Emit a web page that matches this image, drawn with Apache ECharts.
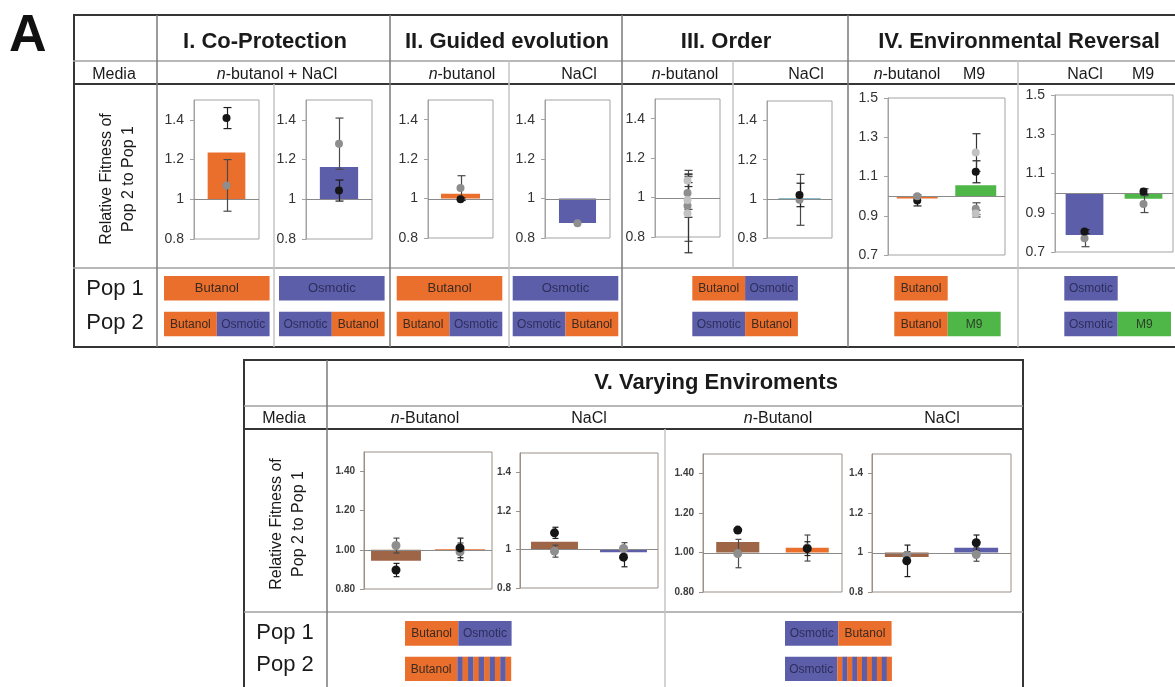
<!DOCTYPE html>
<html><head><meta charset="utf-8">
<script src="https://cdn.jsdelivr.net/npm/echarts@6/dist/echarts.min.js"></script>
<style>html,body{margin:0;padding:0;background:#fff}#c{width:1175px;height:687px}</style>
</head><body><div id="c"></div>
<script>
// ================= DATA =================
// Relative fitness of Pop 2 to Pop 1 (bars = mean; replicates = [categoryIndex, mean, error])
const BASELINE = [[0, 1]];
// I. Co-Protection
const coProtBut_bars = [1.236];
const coProtBut_black = [[0, 1.409, 0.053]];
const coProtBut_gray = [[0, 1.070, 0.130]];
const coProtOsm_bars = [1.162];
const coProtOsm_black = [[0, 1.044, 0.053]];
const coProtOsm_gray = [[0, 1.280, 0.129]];
// II. Guided evolution
const guidedBut_bars = [1.025];
const guidedBut_black = [[0, 0.997, 0.006]];
const guidedBut_gray = [[0, 1.053, 0.063]];
const guidedNaCl_bars = [0.876];
const guidedNaCl_gray = [[0, 0.875, 0]];
// III. Order
const orderBut_bars = [];
const orderBut_gray = [[0, 1.023, 0.083], [0, 0.958, 0.180]];
const orderBut_light = [[0, 1.086, 0.030], [0, 0.988, 0.088], [0, 0.920, 0.200]];
const orderNaCl_bars = [1.005];
const orderNaCl_black = [[0, 1.020, 0.060]];
const orderNaCl_gray = [[0, 0.995, 0.130]];
// IV. Environmental Reversal
const revBut_bars = [0.988, 1.055];
const revBut_black = [[0, 0.978, 0.028], [1, 1.124, 0.056]];
const revBut_gray = [[0, 1.000, 0], [1, 0.936, 0.030]];
const revBut_light = [[1, 1.222, 0.096], [1, 0.911, 0.017]];
const revNaCl_bars = [0.787, 0.971];
const revNaCl_black = [[0, 0.804, 0.010], [1, 1.008, 0.014]];
const revNaCl_gray = [[0, 0.770, 0.043], [1, 0.944, 0.043]];
// V. Varying Environments
const varBut1_bars = [0.944, 1.003];
const varBut1_black = [[0, 0.897, 0.034], [1, 1.010, 0.050]];
const varBut1_gray = [[0, 1.022, 0.038], [1, 0.990, 0.045]];
const varNaCl1_bars = [1.040, 0.986];
const varNaCl1_black = [[0, 1.086, 0.029], [1, 0.960, 0.050]];
const varNaCl1_gray = [[0, 0.991, 0.031], [1, 1.005, 0.030]];
const varBut2_bars = [1.054, 1.024];
const varBut2_black = [[0, 1.114, 0], [1, 1.020, 0.035]];
const varBut2_gray = [[0, 0.995, 0.072], [1, 1.023, 0.066]];
const varNaCl2_bars = [0.978, 1.024];
const varNaCl2_black = [[0, 0.958, 0.080], [1, 1.050, 0.039]];
const varNaCl2_gray = [[0, 0.985, 0.020], [1, 0.990, 0.034]];
// Categories and tick labels
const cats1 = ['Pop 2 vs Pop 1'];
const cats2 = ['A', 'B'];
const ticksTop = [0.8, 1.0, 1.2, 1.4];
const ticksRev = [0.7, 0.9, 1.1, 1.3, 1.5];
const ticksVar = [0.8, 1.0, 1.2, 1.4];

// ================= STYLE / LAYOUT =================
const FONT = '"Liberation Sans", Arial, Helvetica, sans-serif';
const ORANGE = '#EA6E2C', BLUE = '#5C5EA9', GREEN = '#4FB748', BROWN = '#9F6547', TEAL = '#86BCCB';
const C_BLACK = '#151515', C_GRAY = '#8e8e8e', C_LIGHT = '#c2c2c2';
const FRAME_TOP = '#a3a3a3', FRAME_V = '#9c9088';
const fmtPlain = v => String(+(+v).toFixed(1));
const fmt2 = v => (+v).toFixed(2);

const panels = [
  {g:[194,100,65,139], y:[0.8,1.5], ticks:ticksTop, fmt:fmtPlain, cats:cats1, bars:coProtBut_bars, colors:[ORANGE], frac:0.58, reps:[[coProtBut_black,'b'],[coProtBut_gray,'g']], v:false},
  {g:[306,100,66,139], y:[0.8,1.5], ticks:ticksTop, fmt:fmtPlain, cats:cats1, bars:coProtOsm_bars, colors:[BLUE], frac:0.58, reps:[[coProtOsm_gray,'g'],[coProtOsm_black,'b']], v:false},
  {g:[428,100,65,138], y:[0.8,1.5], ticks:ticksTop, fmt:fmtPlain, cats:cats1, bars:guidedBut_bars, colors:[ORANGE], frac:0.6, reps:[[guidedBut_gray,'g'],[guidedBut_black,'b']], v:false},
  {g:[545,100,65,138], y:[0.8,1.5], ticks:ticksTop, fmt:fmtPlain, cats:cats1, bars:guidedNaCl_bars, colors:[BLUE], frac:0.57, reps:[[guidedNaCl_gray,'g']], v:false},
  {g:[655,99,65,138], y:[0.8,1.5], ticks:ticksTop, fmt:fmtPlain, cats:cats1, bars:orderBut_bars, colors:[ORANGE], frac:0.6, reps:[[orderBut_gray,'g'],[orderBut_light,'l']], v:false},
  {g:[767,101,65,137], y:[0.8,1.5], ticks:ticksTop, fmt:fmtPlain, cats:cats1, bars:orderNaCl_bars, colors:[TEAL], frac:0.65, reps:[[orderNaCl_gray,'g'],[orderNaCl_black,'b']], v:false},
  {g:[888,98,117,157], y:[0.7,1.5], ticks:ticksRev, fmt:fmtPlain, cats:cats2, bars:revBut_bars, colors:[ORANGE,GREEN], frac:0.7, reps:[[revBut_black,'b'],[revBut_gray,'g'],[revBut_light,'l']], v:false},
  {g:[1055,95,118,157], y:[0.7,1.5], ticks:ticksRev, fmt:fmtPlain, cats:cats2, bars:revNaCl_bars, colors:[BLUE,GREEN], frac:0.64, reps:[[revNaCl_gray,'g'],[revNaCl_black,'b']], v:false},
  {g:[364,452,128,137], y:[0.8,1.5], ticks:ticksVar, fmt:fmt2, cats:cats2, bars:varBut1_bars, colors:[BROWN,ORANGE], frac:0.78, reps:[[varBut1_gray,'g'],[varBut1_black,'b']], v:true},
  {g:[520,453,138,135], y:[0.8,1.5], ticks:ticksVar, fmt:fmtPlain, cats:cats2, bars:varNaCl1_bars, colors:[BROWN,BLUE], frac:0.68, reps:[[varNaCl1_gray,'g'],[varNaCl1_black,'b']], v:true},
  {g:[703,454,139,138], y:[0.8,1.5], ticks:ticksVar, fmt:fmt2, cats:cats2, bars:varBut2_bars, colors:[BROWN,ORANGE], frac:0.62, reps:[[varBut2_gray,'g'],[varBut2_black,'b']], v:true},
  {g:[872,454,139,138], y:[0.8,1.5], ticks:ticksVar, fmt:fmtPlain, cats:cats2, bars:varNaCl2_bars, colors:[BROWN,BLUE], frac:0.63, reps:[[varNaCl2_gray,'g'],[varNaCl2_black,'b']], v:true}
];
const repStyle = {b:{c:C_BLACK, e:'#1e1e1e'}, g:{c:C_GRAY, e:'#4a4a4a'}, l:{c:C_LIGHT, e:'#333'}};

// ================= BUILD OPTION =================
const grid = [], xAxis = [], yAxis = [], series = [];
panels.forEach((p, k) => {
  const frame = p.v ? FRAME_V : FRAME_TOP;
  grid.push({left:p.g[0], top:p.g[1], width:p.g[2], height:p.g[3], show:true, borderColor:frame, borderWidth:1});
  xAxis.push({type:'category', gridIndex:k, data:p.cats, show:false, boundaryGap:true});
  yAxis.push({type:'value', gridIndex:k, min:p.y[0], max:p.y[1], splitLine:{show:false},
    axisLine:{show:true, lineStyle:{color:frame, width:1}},
    axisTick:{show:true, inside:false, length:4, lineStyle:{color:frame}, customValues:p.ticks},
    axisLabel:{customValues:p.ticks, formatter:p.fmt, color:p.v?'#3d3d3d':'#333', fontFamily:FONT,
      fontSize:p.v?10:14, fontWeight:p.v?'bold':'normal', margin:p.v?9:10}});
  if (p.bars.length) {
    series.push({type:'custom', xAxisIndex:k, yAxisIndex:k, z:2, silent:true,
      data:p.bars.map((v, i) => [i, v]),
      renderItem:(params, api) => {
        const i = api.value(0), v = api.value(1);
        const a = api.coord([i, 1]), b = api.coord([i, v]);
        const w = api.size([1, 0])[0] * p.frac;
        return {type:'rect', shape:{x:a[0]-w/2, y:Math.min(a[1], b[1]), width:w, height:Math.max(1.5, Math.abs(b[1]-a[1]))}, style:{fill:p.colors[i]}};
      }});
  }
  series.push({type:'custom', xAxisIndex:k, yAxisIndex:k, z:3, silent:true, data:BASELINE,
    renderItem:(params, api) => {
      const cs = params.coordSys;
      const y = Math.round(api.coord([0, api.value(1)])[1]) + 0.5;
      return {type:'line', shape:{x1:cs.x, y1:y, x2:cs.x+cs.width, y2:y}, style:{stroke:'#8a8a8a', lineWidth:1}};
    }});
  const cap = p.v ? 3 : 4;
  p.reps.forEach(([data, key]) => {
    const st = repStyle[key];
    series.push({type:'custom', xAxisIndex:k, yAxisIndex:k, z:4, silent:true, data:data.map(d => [d[0], d[1], d[2]]),
      renderItem:(params, api) => {
        const i = api.value(0), m = api.value(1), e = api.value(2);
        if (!e) return null;
        const t = api.coord([i, m+e]), b = api.coord([i, m-e]);
        const x = Math.round(t[0]) + 0.5;
        const ls = {stroke:st.e, lineWidth:1.2};
        return {type:'group', children:[
          {type:'line', shape:{x1:x, y1:t[1], x2:x, y2:b[1]}, style:ls},
          {type:'line', shape:{x1:x-cap, y1:t[1], x2:x+cap, y2:t[1]}, style:ls},
          {type:'line', shape:{x1:x-cap, y1:b[1], x2:x+cap, y2:b[1]}, style:ls}]};
      }});
    series.push({type:'scatter', xAxisIndex:k, yAxisIndex:k, z:5, silent:true, symbol:'circle', symbolSize:p.v?9:8,
      itemStyle:{color:st.c, opacity:1}, data:data.map(d => [d[0], d[1]])});
  });
});

// ================= TABLE GRAPHICS =================
const G = [];
const L = (x1, y1, x2, y2, stroke, w) => G.push({type:'line', silent:true, z:10, shape:{x1, y1, x2, y2}, style:{stroke, lineWidth:w}});
const T = (x, y, str, o = {}) => {
  const size = o.size || 16, fill = o.fill || '#1a1a1a', al = o.align || 'center';
  G.push({type:'text', silent:true, z:12, x, y, rotation:o.rot || 0,
    style:{text:str, fill, fontSize:size, fontFamily:FONT, fontWeight:o.bold ? 'bold' : 'normal',
      align:al, verticalAlign:'middle', textAlign:al, textVerticalAlign:'middle',
      rich:{i:{fontStyle:'italic', fontSize:size, fontFamily:FONT, fill}}}});
};
const R = (x, y, w, h, fill) => G.push({type:'rect', silent:true, z:11, shape:{x, y, width:w, height:h}, style:{fill}});
const txtOn = c => c === BLUE ? '#2d2e5c' : (c === GREEN ? '#2b3f28' : '#3a2a20');
function box(x, y, h, segs) {
  let cx = x;
  segs.forEach(([w, c, lab, sz]) => { R(cx, y, w, h, c); if (lab) T(cx + w/2, y + h/2 + 0.5, lab, {size:sz, fill:txtOn(c)}); cx += w; });
}
function stripes(x, y, w, h, n, first) {
  const sw = w / n, second = first === BLUE ? ORANGE : BLUE;
  for (let i = 0; i < n; i++) R(x + i*sw, y, sw + 0.2, h, i % 2 === 0 ? first : second);
}
const DARK = '#353535', MID = '#7a7a7a', LIGHTL = '#c4c4c4', ROWL = '#a0a0a0';

// --- top table ---
L(73, 15, 1175, 15, DARK, 2); L(73, 347, 1175, 347, DARK, 2); L(74, 15, 74, 347, DARK, 2);
L(73, 61, 1175, 61, ROWL, 1.5); L(73, 84, 1175, 84, DARK, 2); L(73, 268, 1175, 268, ROWL, 1.5);
[157, 390, 622, 848].forEach(x => L(x, 15, x, 347, MID, 1.5));
L(274, 84, 274, 347, LIGHTL, 1.5); L(509, 61, 509, 347, LIGHTL, 1.5);
L(733, 61, 733, 268, LIGHTL, 1.5); L(1018, 61, 1018, 347, LIGHTL, 1.5);

T(9, 37, 'A', {size:52, bold:true, align:'left', fill:'#111'});
T(265, 42, 'I. Co-Protection', {size:22, bold:true});
T(507, 42, 'II. Guided evolution', {size:22, bold:true});
T(726, 42, 'III. Order', {size:22, bold:true});
T(1019, 42, 'IV. Environmental Reversal', {size:22, bold:true});
T(114, 75, 'Media');
T(277, 75, '{i|n}-butanol + NaCl');
T(462, 75, '{i|n}-butanol'); T(579, 75, 'NaCl');
T(685, 75, '{i|n}-butanol'); T(806, 75, 'NaCl');
T(907, 75, '{i|n}-butanol'); T(974, 75, 'M9');
T(1085, 75, 'NaCl'); T(1143, 75, 'M9');
T(107, 179, 'Relative Fitness of', {rot:Math.PI/2, size:16});
T(129, 179, 'Pop 2 to Pop 1', {rot:Math.PI/2, size:16});
T(115, 289, 'Pop 1', {size:22}); T(115, 323, 'Pop 2', {size:22});

const P1Y = 276, P2Y = 311.7, BH = 24.5, FW = 105.6, HW = 52.8;
box(164, P1Y, BH, [[FW, ORANGE, 'Butanol', 13]]);
box(164, P2Y, BH, [[HW, ORANGE, 'Butanol', 12], [HW, BLUE, 'Osmotic', 12]]);
box(279, P1Y, BH, [[FW, BLUE, 'Osmotic', 13]]);
box(279, P2Y, BH, [[HW, BLUE, 'Osmotic', 12], [HW, ORANGE, 'Butanol', 12]]);
box(396.7, P1Y, BH, [[FW, ORANGE, 'Butanol', 13]]);
box(396.7, P2Y, BH, [[HW, ORANGE, 'Butanol', 12], [HW, BLUE, 'Osmotic', 12]]);
box(512.7, P1Y, BH, [[FW, BLUE, 'Osmotic', 13]]);
box(512.7, P2Y, BH, [[HW, BLUE, 'Osmotic', 12], [HW, ORANGE, 'Butanol', 12]]);
box(692.3, P1Y, BH, [[HW, ORANGE, 'Butanol', 12], [HW, BLUE, 'Osmotic', 12]]);
box(692.3, P2Y, BH, [[HW, BLUE, 'Osmotic', 12], [HW, ORANGE, 'Butanol', 12]]);
box(894.3, P1Y, BH, [[53.4, ORANGE, 'Butanol', 12]]);
box(894.3, P2Y, BH, [[53.4, ORANGE, 'Butanol', 12], [53, GREEN, 'M9', 12]]);
box(1064.3, P1Y, BH, [[53.4, BLUE, 'Osmotic', 12]]);
box(1064.3, P2Y, BH, [[53.4, BLUE, 'Osmotic', 12], [53.3, GREEN, 'M9', 12]]);

// --- bottom table ---
L(243, 360, 1024, 360, DARK, 2); L(244, 360, 244, 687, DARK, 2); L(1023, 360, 1023, 687, DARK, 2);
L(244, 406, 1023, 406, ROWL, 1.5); L(244, 429, 1023, 429, DARK, 2); L(244, 612, 1023, 612, ROWL, 1.5);
L(327, 360, 327, 687, MID, 1.5); L(665, 429, 665, 687, LIGHTL, 1.5);

T(716, 383, 'V. Varying Enviroments', {size:22, bold:true});
T(284, 419, 'Media');
T(425, 419, '{i|n}-Butanol'); T(589, 419, 'NaCl');
T(778, 419, '{i|n}-Butanol'); T(942, 419, 'NaCl');
T(277, 524, 'Relative Fitness of', {rot:Math.PI/2, size:16});
T(299, 524, 'Pop 2 to Pop 1', {rot:Math.PI/2, size:16});
T(285, 633, 'Pop 1', {size:22}); T(285, 665, 'Pop 2', {size:22});

box(405, 621, 24.7, [[53.3, ORANGE, 'Butanol', 12], [53.3, BLUE, 'Osmotic', 12]]);
box(405, 656.7, 24.3, [[52.3, ORANGE, 'Butanol', 12]]);
stripes(457.3, 656.7, 53.7, 24.3, 10, BLUE);
box(785, 621, 24.7, [[53.3, BLUE, 'Osmotic', 12], [53.3, ORANGE, 'Butanol', 12]]);
box(785, 656.7, 24.3, [[52.3, BLUE, 'Osmotic', 12]]);
stripes(837.3, 656.7, 54.4, 24.3, 11, ORANGE);

const chart = echarts.init(document.getElementById('c'), null, {renderer:'canvas'});
chart.setOption({animation:false, backgroundColor:'#fff', grid, xAxis, yAxis, series, graphic:{elements:G}});
</script>
</body></html>
